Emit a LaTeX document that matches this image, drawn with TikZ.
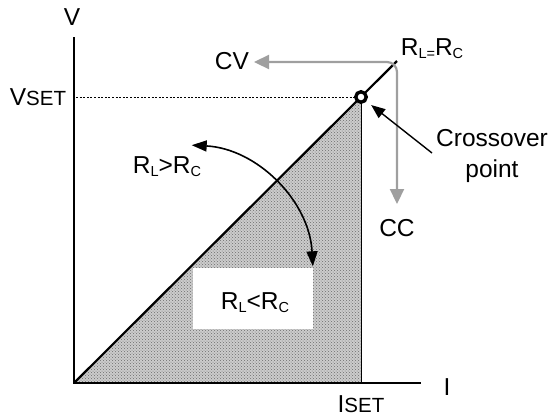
\documentclass[tikz,border=0pt]{standalone}
\usepackage{fontspec}
\setmainfont{Liberation Sans}
\usetikzlibrary{arrows.meta,patterns}
\newcommand\subx[1]{\raisebox{-0.16em}{\fontsize{14.5}{14.5}\selectfont #1}}
\newcommand\smallc[1]{{\fontsize{20.5}{20}\selectfont #1}}
\begin{document}
\begin{tikzpicture}[x=1pt,y=-1pt,
  font=\fontsize{24.5}{30}\selectfont,
  axis/.style={line width=2.2pt},
  lbl/.style={inner sep=0pt, anchor=base},
  grayarrow/.style={draw=gray!75, line width=2.2pt, rounded corners=10pt,
    {Triangle[length=15pt,width=14pt]}-{Triangle[length=15pt,width=14pt]}},
  blackhead/.style={-{Triangle[length=14pt,width=11pt]}},
  xpoint/.style={circle, draw, fill=white, line width=3.4pt, minimum size=10.5pt, inner sep=0pt}]
\useasboundingbox (0,0) rectangle (552,416);
% coordinates
\coordinate (O) at (74,383);
\coordinate (Vtop) at (74,37);
\coordinate (Iend) at (421,383);
\coordinate (Ibase) at (361,383);
\coordinate (Dend) at (397,61);
\coordinate (Vdot) at (76,97);
% shaded region
\fill[gray!40] (O) -- (361,97) -- (Ibase) -- cycle;
\fill[pattern=crosshatch dots, pattern color=gray!85!black] (O) -- (361,97) -- (Ibase) -- cycle;
\fill[white] (193,268) rectangle (313,329);
\draw[line width=0.9pt] (361,97) -- (Ibase);
% axes
\draw[axis] (Vtop) -- (O) -- (Iend);
% diagonal
\draw[line width=2.2pt] (O) -- (Dend);
% crossover point
\node[xpoint] (X) at (361,97) {};
\draw[line width=0.9pt, dash pattern=on 2pt off 1.6pt] (Vdot) -- (X.west);
% CV / CC arrow
\coordinate (CVtip) at (254,62);
\coordinate (CCtip) at (397,204);
\draw[grayarrow] (CVtip) -- (397,62) -- (CCtip);
% crossover annotation arrow
\coordinate (Xlab) at (432,153);
\draw[line width=1.4pt, blackhead, shorten >=6pt] (Xlab) -- (X);
% arc arrow
\coordinate (ArcC) at (185,273);
\draw[line width=1.6pt, {Triangle[length=15pt,width=11pt]}-{Triangle[length=15pt,width=11pt]}]
  ([shift={(-3:128)}]ArcC) arc[start angle=-3, end angle=-87, radius=128];
% labels
\node[lbl] (Vl) at (72,25) {V};
\node[lbl] (VSETl) at (38,105) {V\smallc{SET}};
\node[lbl] (Il) at (447,395) {I};
\node[lbl] (ISETl) at (361,412) {I\smallc{SET}};
\node[lbl] (CVl) at (232,69) {CV};
\node[lbl] (CCl) at (397,236) {CC};
\node[lbl] (REq) at (432,55) {R\subx{L=}R\subx{C}};
\node[lbl] (Cross) at (492,146) {Crossover};
\node[lbl] (Pt) at (492,177) {point};
\node[lbl] (Rgt) at (167,173) {R\subx{L}>R\subx{C}};
\node[lbl] (Rlt) at (255,309) {R\subx{L}<R\subx{C}};
\end{tikzpicture}
\end{document}
